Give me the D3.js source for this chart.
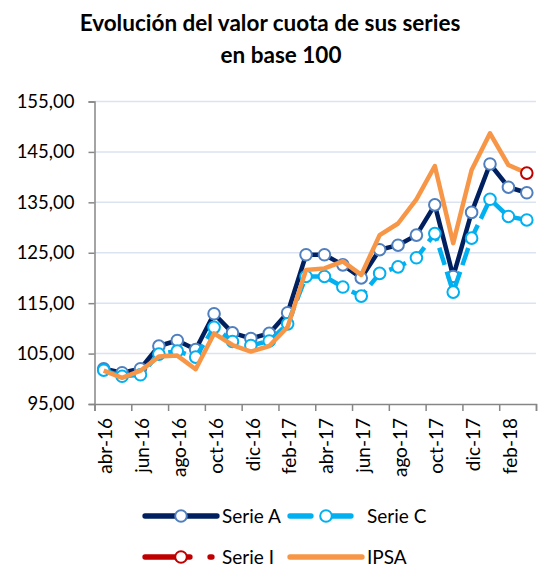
<!DOCTYPE html>
<html>
<head>
<meta charset="utf-8">
<script src="https://cdn.jsdelivr.net/npm/d3@7"></script>
<style>
  body { margin: 0; background: #fff; }
  text { font-family: Lato, "Open Sans", sans-serif; fill: #000; }
</style>
</head>
<body>
<div id="chart"></div>
<script>
// months on the category axis
var months = ["abr-16","may-16","jun-16","jul-16","ago-16","sep-16","oct-16","nov-16","dic-16",
  "ene-17","feb-17","mar-17","abr-17","may-17","jun-17","jul-17","ago-17","sep-17","oct-17",
  "nov-17","dic-17","ene-18","feb-18","mar-18"];

// series values (base 100)
var serieA = [102.0, 101.2, 102.0, 106.5, 107.6, 105.8, 112.9, 109.1, 108.0, 109.0, 113.1, 124.6,
  124.6, 122.6, 120.0, 125.6, 126.5, 128.5, 134.5, 120.3, 133.0, 142.6, 138.0, 136.9];
var serieC = [101.7, 100.5, 100.8, 104.9, 105.5, 104.3, 110.2, 107.4, 106.6, 107.5, 110.9, 120.3,
  120.3, 118.2, 116.4, 120.9, 122.2, 124.0, 128.8, 117.2, 127.9, 135.6, 132.2, 131.5];
var serieI = [null, null, null, null, null, null, null, null, null, null, null, null,
  null, null, null, null, null, null, null, null, null, null, null, 140.8];
var ipsa = [101.6, 100.2, 101.6, 104.4, 104.6, 101.9, 109.0, 106.7, 105.4, 106.5, 110.3, 121.6,
  121.9, 123.3, 120.6, 128.5, 130.8, 135.6, 142.2, 126.9, 141.4, 148.7, 142.4, 140.8];

var yTicks = [95, 105, 115, 125, 135, 145, 155];
var labelMonths = months.filter(function(d, i) { return i % 2 === 0; });

var svgWidth = 539;
var svgHeight = 572;

var plot = { left: 94.5, right: 536, top: 101.5, bottom: 404 };

var svg = d3.select("#chart")
  .append("svg")
  .attr("width", svgWidth)
  .attr("height", svgHeight);

// title
svg.append("text")
  .attr("x", 270)
  .attr("y", 31)
  .attr("text-anchor", "middle")
  .style("font-size", "22.5px")
  .style("font-weight", "bold")
  .text("Evolución del valor cuota de sus series");
svg.append("text")
  .attr("x", 281)
  .attr("y", 63)
  .attr("text-anchor", "middle")
  .style("font-size", "22.5px")
  .style("font-weight", "bold")
  .text("en base 100");

// scales
var xBand = d3.scaleBand()
  .domain(months)
  .range([plot.left, plot.right]);

var xBound = d3.scaleLinear()
  .domain([0, months.length])
  .range([plot.left, plot.right]);

var yScale = d3.scaleLinear()
  .domain([95, 155])
  .range([plot.bottom, plot.top]);

var xc = function(i) { return xBand(months[i]) + xBand.bandwidth() / 2; };

// gridlines
svg.append("g")
  .selectAll("line")
  .data(yTicks.slice(1))
  .enter()
  .append("line")
  .attr("x1", plot.left)
  .attr("x2", plot.right)
  .attr("y1", function(d) { return yScale(d); })
  .attr("y2", function(d) { return yScale(d); })
  .attr("stroke", "#dbe3f1")
  .attr("stroke-width", 1.5);

// y axis
var leftAxis = d3.axisLeft(yScale)
  .tickValues(yTicks)
  .tickSize(6)
  .tickPadding(14)
  .tickFormat(function(d) { return d3.format(".2f")(d).replace(".", ","); });

var yAxisG = svg.append("g")
  .attr("transform", "translate(" + plot.left + ",0)")
  .call(leftAxis);
yAxisG.select(".domain").attr("stroke", "#868686").attr("stroke-width", 1.5);
yAxisG.selectAll(".tick line").attr("stroke", "#868686").attr("stroke-width", 1.5);
yAxisG.selectAll(".tick text")
  .style("font-size", "18.5px")
  .style("font-family", "Lato, sans-serif")
  .attr("fill", "#000");

// x axis: tick marks at category boundaries every 2 months
var tickAxis = d3.axisBottom(xBound)
  .tickValues(d3.range(0, months.length + 1, 2))
  .tickSize(7)
  .tickFormat("");

var xAxisG = svg.append("g")
  .attr("transform", "translate(0," + plot.bottom + ")")
  .call(tickAxis);
xAxisG.select(".domain").attr("stroke", "#868686").attr("stroke-width", 1.5);
xAxisG.selectAll(".tick line").attr("stroke", "#868686").attr("stroke-width", 1.5);

// x labels
var labelAxis = d3.axisBottom(xBand)
  .tickValues(labelMonths)
  .tickSize(0)
  .tickPadding(0);

var xLabelG = svg.append("g")
  .attr("transform", "translate(0," + plot.bottom + ")")
  .call(labelAxis);
xLabelG.select(".domain").remove();
xLabelG.selectAll(".tick text")
  .attr("transform", "translate(2,14) rotate(-90)")
  .attr("x", 0)
  .attr("y", 0)
  .attr("dy", "0.35em")
  .attr("text-anchor", "end")
  .style("font-size", "19px")
  .style("font-family", "Lato, sans-serif")
  .attr("fill", "#000");

// line generator
var line = d3.line()
  .defined(function(d) { return d != null; })
  .x(function(d, i) { return xc(i); })
  .y(function(d) { return yScale(d); });

function drawMarkers(values, stroke) {
  var pts = values.map(function(v, i) { return { v: v, i: i }; })
    .filter(function(d) { return d.v != null; });
  svg.append("g")
    .selectAll("circle")
    .data(pts)
    .enter()
    .append("circle")
    .attr("cx", function(d) { return xc(d.i); })
    .attr("cy", function(d) { return yScale(d.v); })
    .attr("r", 5.8)
    .attr("fill", "#fff")
    .attr("stroke", stroke)
    .attr("stroke-width", 2);
}

// Serie A
svg.append("path")
  .datum(serieA)
  .attr("d", line)
  .attr("fill", "none")
  .attr("stroke", "#002060")
  .attr("stroke-width", 4.5)
  .attr("stroke-linejoin", "round");
drawMarkers(serieA, "#4f7fbf");

// Serie C
svg.append("path")
  .datum(serieC)
  .attr("d", line)
  .attr("fill", "none")
  .attr("stroke", "#00b0f0")
  .attr("stroke-width", 4.5)
  .attr("stroke-dasharray", "18,7");
drawMarkers(serieC, "#00b0f0");

// IPSA
svg.append("path")
  .datum(ipsa)
  .attr("d", line)
  .attr("fill", "none")
  .attr("stroke", "#f79646")
  .attr("stroke-width", 4.5)
  .attr("stroke-linejoin", "round");

// Serie I
svg.append("path")
  .datum(serieI)
  .attr("d", line)
  .attr("fill", "none")
  .attr("stroke", "#c00000")
  .attr("stroke-width", 4.5);
drawMarkers(serieI, "#c00000");

// legend
var legend = svg.append("g");

function legendItem(x, y, color, dash, markerStroke, label, tx) {
  var g = legend.append("g");
  if (dash === "solid") {
    g.append("line").attr("x1", x).attr("x2", x + 72).attr("y1", y).attr("y2", y)
      .attr("stroke", color).attr("stroke-width", 5.3).attr("stroke-linecap", "round");
  } else if (dash === "dashC") {
    g.append("line").attr("x1", x).attr("x2", x + 21).attr("y1", y).attr("y2", y)
      .attr("stroke", color).attr("stroke-width", 5.3).attr("stroke-linecap", "round");
    g.append("line").attr("x1", x + 41).attr("x2", x + 61).attr("y1", y).attr("y2", y)
      .attr("stroke", color).attr("stroke-width", 5.3).attr("stroke-linecap", "round");
  } else if (dash === "dashI") {
    g.append("line").attr("x1", x).attr("x2", x + 45).attr("y1", y).attr("y2", y)
      .attr("stroke", color).attr("stroke-width", 5.3).attr("stroke-linecap", "round");
    g.append("line").attr("x1", x + 65).attr("x2", x + 67).attr("y1", y).attr("y2", y)
      .attr("stroke", color).attr("stroke-width", 5.3).attr("stroke-linecap", "round");
  }
  if (markerStroke) {
    g.append("circle").attr("cx", x + 36).attr("cy", y).attr("r", 5.8)
      .attr("fill", "#fff").attr("stroke", markerStroke).attr("stroke-width", 2);
  }
  g.append("text").attr("x", tx).attr("y", y).attr("dy", "0.35em")
    .style("font-size", "19px").text(label);
}

legendItem(145, 516, "#002060", "solid", "#4f7fbf", "Serie A", 222);
legendItem(290, 516, "#00b0f0", "dashC", "#00b0f0", "Serie C", 367);
legendItem(145, 557, "#c00000", "dashI", "#c00000", "Serie I", 222);
legendItem(290, 557, "#f79646", "solid", null, "IPSA", 367);
</script>
</body>
</html>
